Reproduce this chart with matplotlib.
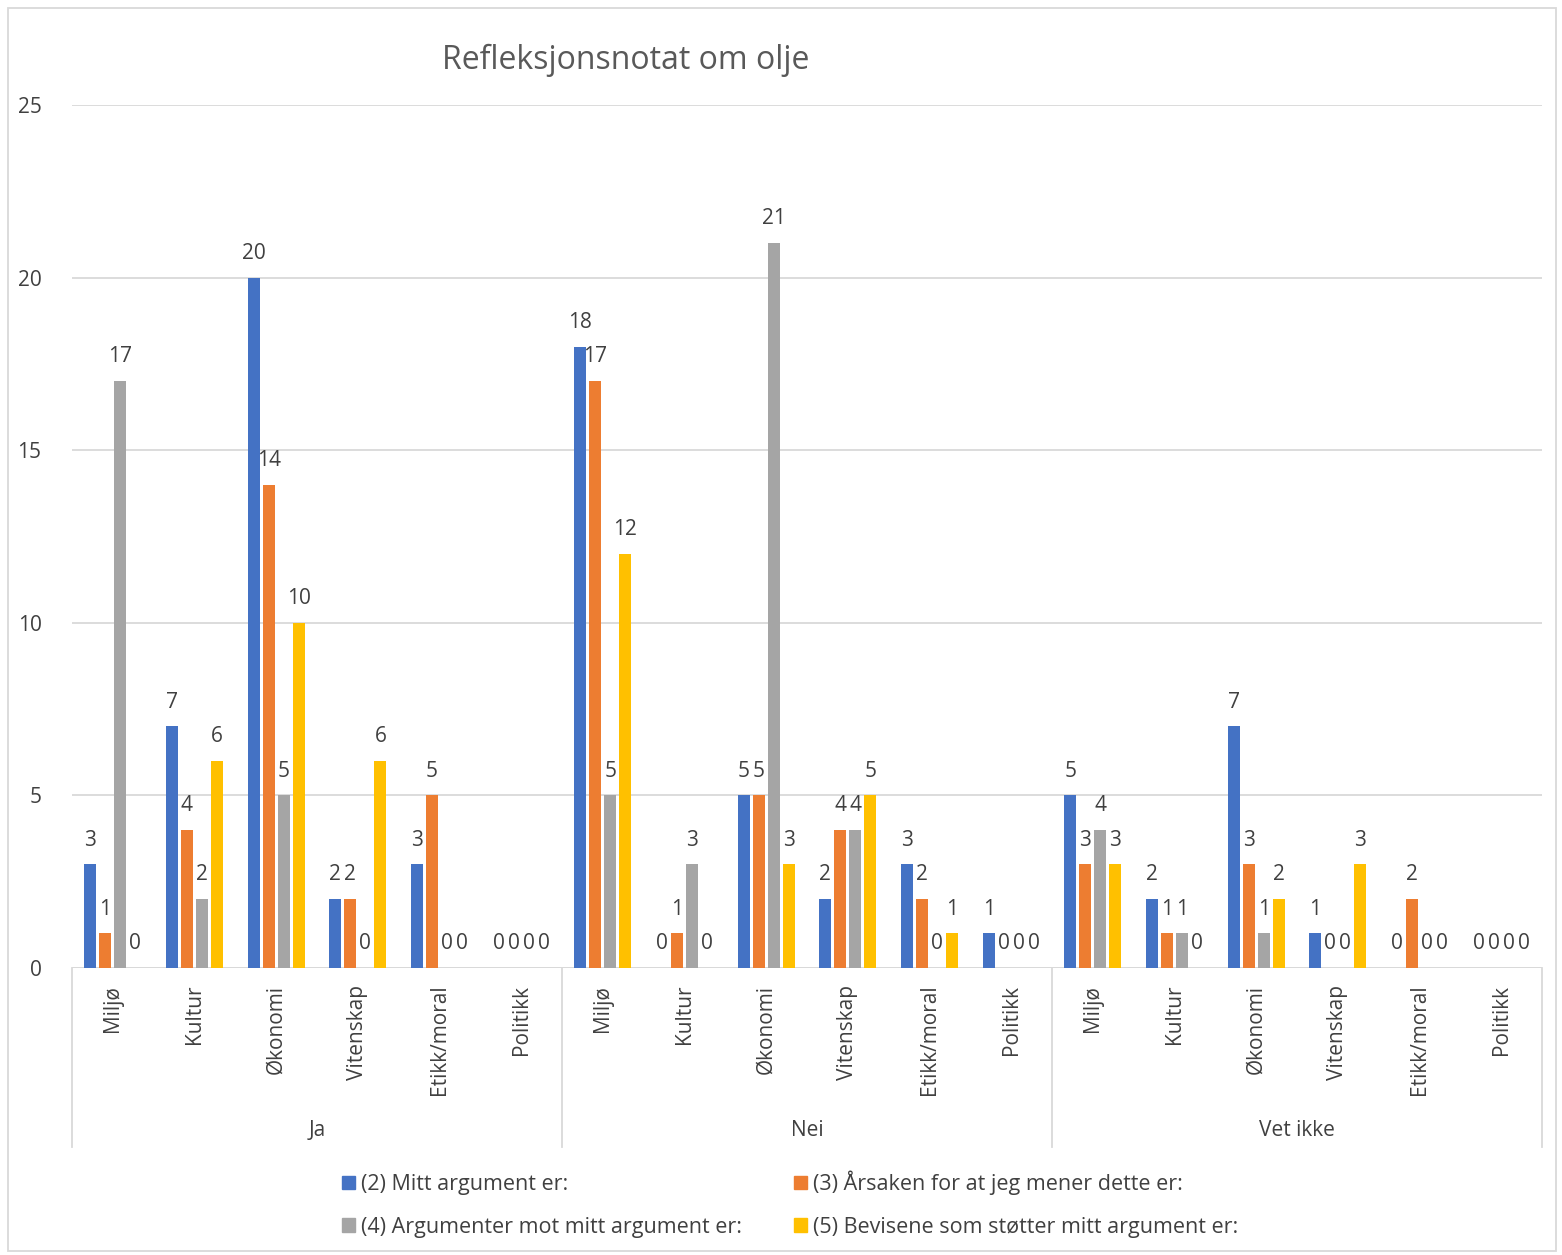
import numpy as np
import matplotlib.pyplot as plt
from matplotlib.patches import Patch, Rectangle
import matplotlib.transforms as mtransforms

plt.rcParams['font.family'] = ['Open Sans', 'DejaVu Sans']

groups = ['Ja', 'Nei', 'Vet ikke']
topics = ['Miljø', 'Kultur', 'Økonomi', 'Vitenskap', 'Etikk/moral', 'Politikk']

series_names = ['(2) Mitt argument er:',
                '(3) Årsaken for at jeg mener dette er:',
                '(4) Argumenter mot mitt argument er:',
                '(5) Bevisene som støtter mitt argument er:']
colors = ['#4472C4', '#ED7D31', '#A5A5A5', '#FFC000']

# values per series, Ja topics then Nei topics then Vet ikke topics
mitt_argument = [3, 7, 20, 2, 3, 0,
                 18, 0, 5, 2, 3, 1,
                 5, 2, 7, 1, 0, 0]
aarsaken = [1, 4, 14, 2, 5, 0,
            17, 1, 5, 4, 2, 0,
            3, 1, 3, 0, 2, 0]
argumenter_mot = [17, 2, 5, 0, 0, 0,
                  5, 3, 21, 4, 0, 0,
                  4, 1, 1, 0, 0, 0]
bevisene = [0, 6, 10, 6, 0, 0,
            12, 0, 3, 5, 1, 0,
            3, 0, 2, 3, 0, 0]
all_series = [mitt_argument, aarsaken, argumenter_mot, bevisene]

fig = plt.figure(figsize=(15.62, 12.55), dpi=100)
ax = fig.add_axes([72/1562, 1 - 968/1255, 1470/1562, 863/1255])

n = len(groups) * len(topics)
x = np.arange(n)
step = 0.184
width = 0.147
label_color = '#404040'

for i, (vals, col) in enumerate(zip(all_series, colors)):
    pos = x + (i - 1.5) * step
    ax.bar(pos, vals, width=width, color=col, zorder=3)
    for px, v in zip(pos, vals):
        ax.text(px, v + 0.4, str(v), ha='center', va='bottom',
                fontsize=15, color=label_color, zorder=4)

ax.set_xlim(-0.5, n - 0.5)
ax.set_ylim(0, 25)
ax.set_yticks(range(0, 26, 5))
ax.tick_params(axis='y', length=0, pad=22, labelsize=15, labelcolor=label_color)
ax.yaxis.grid(True, color='#d9d9d9', linewidth=1.3, zorder=0)
for s in ax.spines.values():
    s.set_visible(False)
ax.axhline(0, color='#d9d9d9', linewidth=1.3, zorder=2)

ax.set_xticks(x)
ax.set_xticklabels(topics * len(groups), rotation=90, fontsize=15, color=label_color)
ax.tick_params(axis='x', length=0, pad=12)

# group separators and group names under the topic labels
trans = mtransforms.blended_transform_factory(ax.transData, ax.transAxes)
sep_bottom = (968 - 1147) / 863
for b in [-0.5, 5.5, 11.5, 17.5]:
    ax.plot([b, b], [0, sep_bottom], color='#d9d9d9', linewidth=1.3,
            transform=trans, clip_on=False)
for gi, g in enumerate(groups):
    ax.text(gi * 6 + 2.5, (968 - 1131) / 863, g, transform=trans,
            ha='center', va='center', fontsize=15, color=label_color)

fig.text(626/1562, 1 - 60/1255, 'Refleksjonsnotat om olje', ha='center',
         va='center', fontsize=23, color='#595959')

handles = [Patch(color=c) for c in colors]
order = [0, 2, 1, 3]
fig.legend([handles[k] for k in order], [series_names[k] for k in order],
           ncol=2, loc='center', bbox_to_anchor=(790/1562, 1 - 1204/1255),
           frameon=False, fontsize=15.5, handlelength=0.6, handleheight=0.6,
           handletextpad=0.3, columnspacing=2.4, labelspacing=1.0,
           labelcolor=label_color)

# outer chart border
fig.patches.append(Rectangle((8/1562, 4/1255), 1548/1562, 1243/1255,
                             transform=fig.transFigure, fill=False,
                             edgecolor='#d9d9d9', linewidth=1.3))

fig.savefig('out.png', dpi=100)
